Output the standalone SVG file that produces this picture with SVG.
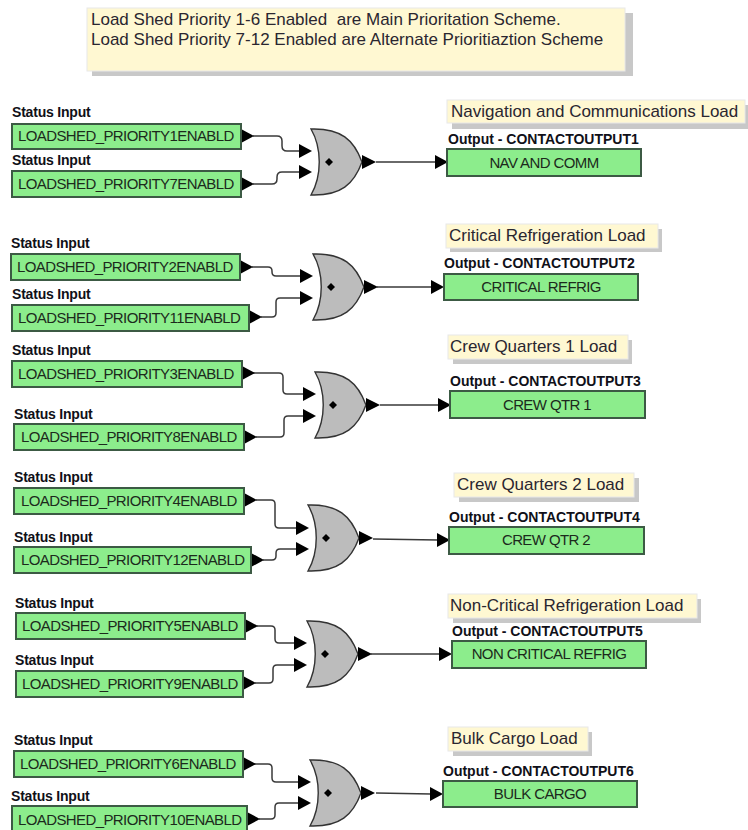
<svg xmlns="http://www.w3.org/2000/svg" width="748" height="830" viewBox="0 0 748 830">
<style>
text{font-family:"Liberation Sans",Arial,sans-serif;fill:#1c2a1c}
.n{font-size:17px;fill:#2a2630}
.b{font-size:14px;font-weight:bold;fill:#101018;letter-spacing:-.2px}
.o{font-size:14px;font-weight:bold;fill:#101018}
.t{font-size:15px;letter-spacing:-.6px}
.c{text-anchor:middle}
.box{fill:#8ced8c;stroke:#3c5a44;stroke-width:2}
.note{fill:#fff8d2;stroke:#e8e8e8;stroke-width:1}
.sh{fill:#c8c8c8}
.w{fill:none;stroke:#3a3a3a;stroke-width:1.5}
.a{fill:#000}
.g{fill:#bcbcbc;stroke:#333;stroke-width:1.4}
</style>
<defs>
<g id="gate"><path class="g" d="M0,-33C30,-34 43,-22 51,0C43,22 30,34 0,33C11,14 11,-14 0,-33Z"/><path class="a" d="M18,-4L22,0L18,4L14,0Z"/><path class="a" d="M51,-7L65,0L51,7Z"/></g>
<path id="ar" class="a" d="M0,-7L13,0L0,7Z"/>
</defs>

<g id="note-main">
<rect class="sh" x="92" y="13" width="541" height="63"/>
<rect class="note" x="87" y="8" width="538" height="63"/>
<text class="n" x="91" y="25" xml:space="preserve">Load Shed Priority 1-6 Enabled  are Main Prioritation Scheme.</text>
<text class="n" x="91" y="45">Load Shed Priority 7-12 Enabled are Alternate Prioritiaztion Scheme</text>
</g>

<g id="connectors">
<path class="w" d="M253,136H277Q282,136 282,141V146Q282,151 287,151H299M253,184H272Q277,184 277,179V177Q277,172 282,172H299M376,162H436"/>
<path class="w" d="M252,267H268Q272,267 272,271V272Q272,276 276,276H300M261,317H272Q276,317 276,313V302Q276,298 280,298H300M377,287H433"/>
<path class="w" d="M253,373H279Q283,373 283,377V390Q283,394 287,394H303M256,437H280Q284,437 284,433V420Q284,416 288,416H303M380,405H439"/>
<path class="w" d="M256,500H271Q275,500 275,504V524Q275,528 279,528H296M263,560H272Q276,560 276,556V553Q276,549 280,549H296M373,539L438,540"/>
<path class="w" d="M257,626H271Q275,626 275,630V639Q275,643 279,643H294M255,683H269Q273,683 273,679V669Q273,665 277,665H294M371,654H440"/>
<path class="w" d="M254,764H268Q272,764 272,768V778Q272,782 276,782H298M259,819H271Q275,819 275,815V807Q275,803 279,803H298M376,793L431,794"/>
<use href="#ar" x="241" y="136"/><use href="#ar" x="241" y="184"/><use href="#ar" x="299" y="151"/><use href="#ar" x="299" y="172"/><use href="#ar" x="435" y="162"/>
<use href="#ar" x="240" y="267"/><use href="#ar" x="249" y="317"/><use href="#ar" x="300" y="276"/><use href="#ar" x="300" y="298"/><use href="#ar" x="431" y="287"/>
<use href="#ar" x="242" y="373"/><use href="#ar" x="244" y="437"/><use href="#ar" x="303" y="394"/><use href="#ar" x="303" y="416"/><use href="#ar" x="438" y="405"/>
<use href="#ar" x="244" y="500"/><use href="#ar" x="251" y="560"/><use href="#ar" x="296" y="528"/><use href="#ar" x="296" y="549"/><use href="#ar" x="437" y="540"/>
<use href="#ar" x="245" y="626"/><use href="#ar" x="243" y="683"/><use href="#ar" x="294" y="643"/><use href="#ar" x="294" y="665"/><use href="#ar" x="439" y="654"/>
<use href="#ar" x="243" y="764"/><use href="#ar" x="247" y="819"/><use href="#ar" x="298" y="782"/><use href="#ar" x="298" y="803"/><use href="#ar" x="430" y="794"/>
</g>

<g id="in1"><text class="b" x="12" y="117">Status Input</text><rect class="box" x="12" y="124" width="229" height="25"/><text class="t" x="18" y="141">LOADSHED_PRIORITY1ENABLD</text></g>
<g id="in7"><text class="b" x="12" y="165">Status Input</text><rect class="box" x="12" y="171" width="229" height="26"/><text class="t" x="18" y="189">LOADSHED_PRIORITY7ENABLD</text></g>
<g id="gate1"><use href="#gate" x="311" y="162"/></g>
<g id="out1"><rect class="sh" x="452" y="105" width="296" height="24"/><rect class="note" x="447" y="100" width="298" height="23"/><text class="n" x="451" y="117">Navigation and Communications Load</text><text class="o" x="448" y="144">Output - CONTACTOUTPUT1</text><rect class="box" x="447" y="149" width="194" height="27"/><text class="t c" x="544" y="168">NAV AND COMM</text></g>

<g id="in2"><text class="b" x="11" y="248">Status Input</text><rect class="box" x="11" y="254" width="229" height="26"/><text class="t" x="17" y="272">LOADSHED_PRIORITY2ENABLD</text></g>
<g id="in11"><text class="b" x="12" y="299">Status Input</text><rect class="box" x="12" y="305" width="237" height="26"/><text class="t" x="18" y="323">LOADSHED_PRIORITY11ENABLD</text></g>
<g id="gate2"><use href="#gate" x="313" y="287"/></g>
<g id="out2"><rect class="sh" x="450" y="229" width="212" height="23"/><rect class="note" x="446" y="224" width="212" height="24"/><text class="n" x="449" y="241">Critical Refrigeration Load</text><text class="o" x="444" y="268">Output - CONTACTOUTPUT2</text><rect class="box" x="444" y="274" width="194" height="26"/><text class="t c" x="541" y="292">CRITICAL REFRIG</text></g>

<g id="in3"><text class="b" x="12" y="355">Status Input</text><rect class="box" x="12" y="361" width="230" height="26"/><text class="t" x="18" y="379">LOADSHED_PRIORITY3ENABLD</text></g>
<g id="in8"><text class="b" x="14" y="419">Status Input</text><rect class="box" x="14" y="424" width="230" height="26"/><text class="t" x="21" y="442">LOADSHED_PRIORITY8ENABLD</text></g>
<g id="gate3"><use href="#gate" x="315" y="405"/></g>
<g id="out3"><rect class="sh" x="453" y="340" width="179" height="24"/><rect class="note" x="448" y="335" width="180" height="24"/><text class="n" x="450" y="352">Crew Quarters 1 Load</text><text class="o" x="450" y="386">Output - CONTACTOUTPUT3</text><rect class="box" x="450" y="391" width="195" height="27"/><text class="t c" x="547" y="410">CREW QTR 1</text></g>

<g id="in4"><text class="b" x="14" y="482">Status Input</text><rect class="box" x="14" y="488" width="230" height="26"/><text class="t" x="21" y="506">LOADSHED_PRIORITY4ENABLD</text></g>
<g id="in12"><text class="b" x="14" y="542">Status Input</text><rect class="box" x="14" y="547" width="237" height="26"/><text class="t" x="21" y="565">LOADSHED_PRIORITY12ENABLD</text></g>
<g id="gate4"><use href="#gate" x="308" y="538"/></g>
<g id="out4"><rect class="sh" x="459" y="478" width="180" height="24"/><rect class="note" x="454" y="473" width="180" height="24"/><text class="n" x="457" y="490">Crew Quarters 2 Load</text><text class="o" x="449" y="522">Output - CONTACTOUTPUT4</text><rect class="box" x="449" y="527" width="195" height="27"/><text class="t c" x="546" y="545">CREW QTR 2</text></g>

<g id="in5"><text class="b" x="15" y="608">Status Input</text><rect class="box" x="16" y="613" width="229" height="26"/><text class="t" x="22" y="631">LOADSHED_PRIORITY5ENABLD</text></g>
<g id="in9"><text class="b" x="15" y="665">Status Input</text><rect class="box" x="16" y="671" width="227" height="26"/><text class="t" x="22" y="689">LOADSHED_PRIORITY9ENABLD</text></g>
<g id="gate5"><use href="#gate" x="307" y="654"/></g>
<g id="out5"><rect class="sh" x="453" y="599" width="248" height="24"/><rect class="note" x="448" y="594" width="249" height="24"/><text class="n" x="450" y="611">Non-Critical Refrigeration Load</text><text class="o" x="452" y="636">Output - CONTACTOUTPUT5</text><rect class="box" x="452" y="641" width="194" height="27"/><text class="t c" x="549" y="659">NON CRITICAL REFRIG</text></g>

<g id="in6"><text class="b" x="14" y="745">Status Input</text><rect class="box" x="14" y="751" width="229" height="26"/><text class="t" x="20" y="769">LOADSHED_PRIORITY6ENABLD</text></g>
<g id="in10"><text class="b" x="11" y="801">Status Input</text><rect class="box" x="12" y="806" width="235" height="26"/><text class="t" x="18" y="825">LOADSHED_PRIORITY10ENABLD</text></g>
<g id="gate6"><use href="#gate" x="310" y="793"/></g>
<g id="out6"><rect class="sh" x="453" y="732" width="139" height="24"/><rect class="note" x="448" y="727" width="140" height="24"/><text class="n" x="451" y="744">Bulk Cargo Load</text><text class="o" x="443" y="776">Output - CONTACTOUTPUT6</text><rect class="box" x="443" y="781" width="194" height="26"/><text class="t c" x="540" y="799">BULK CARGO</text></g>
</svg>
